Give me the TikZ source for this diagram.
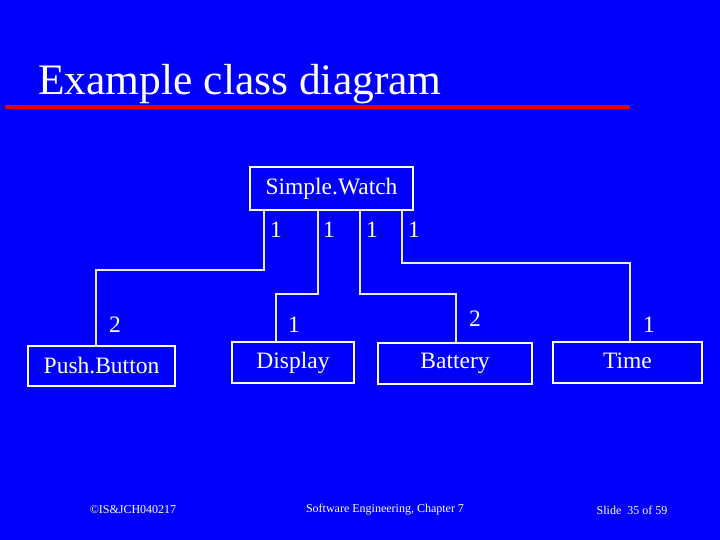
\documentclass[tikz,border=0pt]{standalone}
\usepackage{fontspec}
\setmainfont{Liberation Serif}
\begin{document}
\begin{tikzpicture}[x=1pt,y=-1pt,
  cls/.style={draw=white,line width=1.5pt,fill=bgblue,inner sep=0pt,text=white,font=\fontsize{23.5}{24}\selectfont},
  lnk/.style={draw=white!92!black,line width=1.5pt},
  mult/.style={text=white,font=\fontsize{23.5}{24}\selectfont,inner sep=0pt},
  foot/.style={text=white,font=\fontsize{12}{12}\selectfont,inner sep=0pt}]
\definecolor{bgblue}{RGB}{0,0,250}
\fill[bgblue] (0,0) rectangle (720,540);
\useasboundingbox (0,0) rectangle (720,540);
\node[text=white,anchor=base west,inner sep=0pt,font=\fontsize{43.5}{44}\selectfont] (title) at (38,95) {Example class diagram};
\fill[red!90!black] (5,105) rectangle (630,109);
\node[cls,minimum width=163pt,minimum height=43pt] (sw) at (331.5,188.5) {Simple.Watch};
\node[cls,minimum width=147pt,minimum height=40pt] (pb) at (101.5,366) {\raisebox{-2pt}{Push.Button}};
\node[cls,minimum width=122pt,minimum height=41pt] (dp) at (293,362.5) {\raisebox{3pt}{Display}};
\node[cls,minimum width=154pt,minimum height=41pt] (bt) at (455,363.5) {\raisebox{-5pt}{Battery}};
\node[cls,minimum width=149pt,minimum height=41pt] (tm) at (627.5,362.5) {\raisebox{3pt}{Time}};
\coordinate (a1) at (264,270);
\coordinate (a2) at (96,270);
\draw[lnk] (sw.south -| a1) -- (a1) -- (a2) -- (a2 |- pb.north);
\draw[lnk] (318,210) -- (318,294) -- (276,294) -- (276,342);
\draw[lnk] (360,210) -- (360,294) -- (456,294) -- (456,343);
\draw[lnk] (402,210) -- (402,263) -- (630,263) -- (630,342);
\node[mult] (m1) at (276,230) {1};
\node[mult] (m2) at (329,230) {1};
\node[mult] (m3) at (372,230) {1};
\node[mult] (m4) at (414,230) {1};
\node[mult] (m5) at (115,325) {2};
\node[mult] (m6) at (294,325) {1};
\node[mult] (m7) at (475,319) {2};
\node[mult] (m8) at (649,325) {1};
\node[foot] (f1) at (133,510) {©IS\&JCH040217};
\node[foot] (f2) at (385,510) {Software Engineering, Chapter 7};
\node[foot] (f3) at (632,510) {Slide \ 35 of 59};
\end{tikzpicture}
\end{document}
